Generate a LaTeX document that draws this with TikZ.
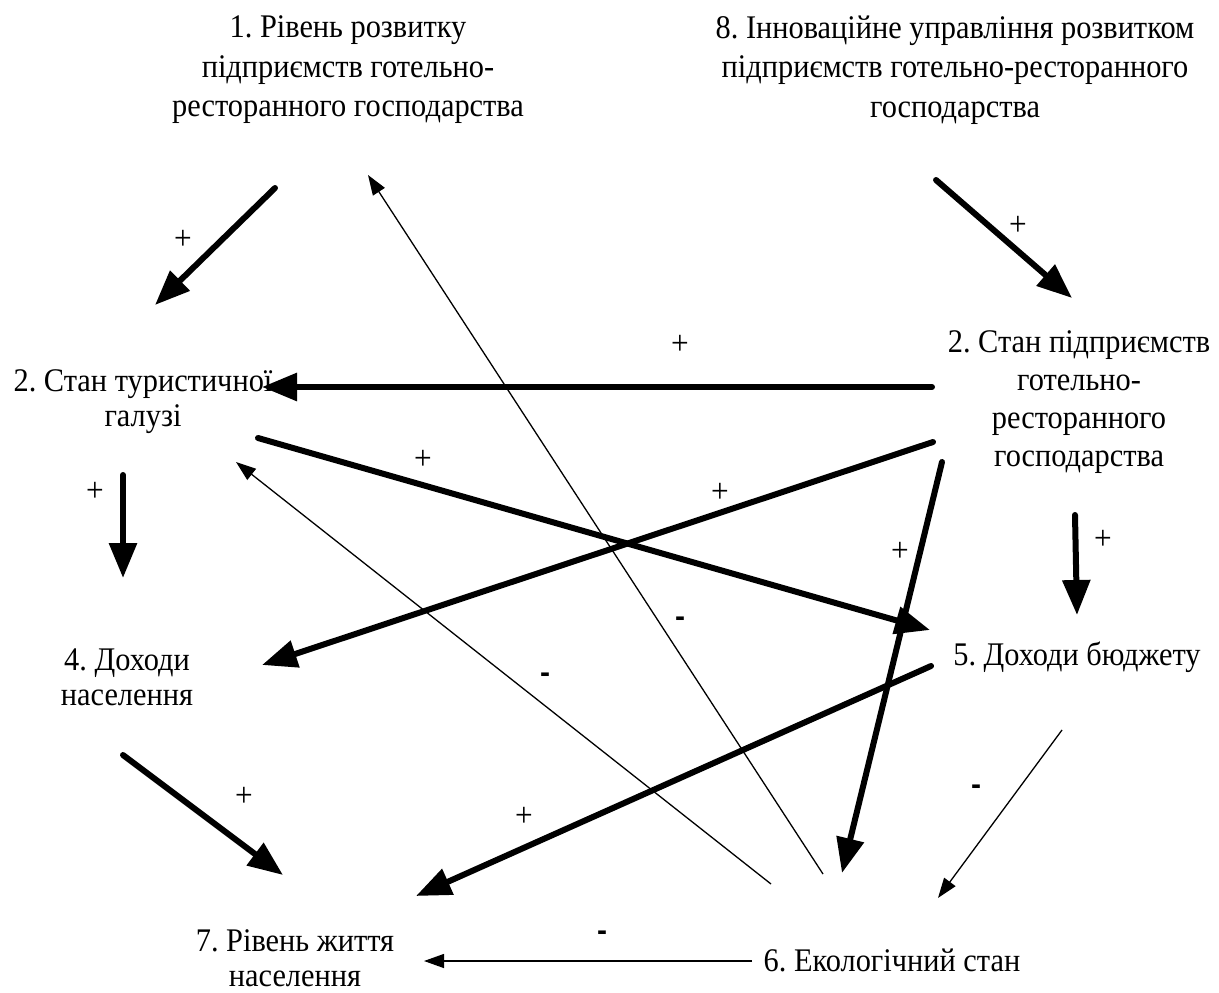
\documentclass[tikz,border=0pt]{standalone}
\usepackage{fontspec}
\setmainfont{Liberation Serif}[FakeStretch=0.92]
\newfontfamily\minusfont{Liberation Sans}
\usetikzlibrary{arrows.meta}
\frenchspacing

\tikzset{
  factor/.style={align=center, inner sep=0pt, font=\fontsize{33}{38}\selectfont},
  strong/.style={line width=6pt, line cap=round, -{Triangle[length=35pt,width=27pt]}},
  weak/.style={line width=1.3pt, -{Triangle[length=20pt,width=14pt]}},
  sign/.style={inner sep=0pt, font=\fontsize{34}{34}\selectfont},
  minus/.style={inner sep=0pt, font=\minusfont\bfseries\fontsize{30}{30}\selectfont},
}

\begin{document}
\begin{tikzpicture}[x=1pt,y=-1pt]
    \useasboundingbox (0,0) rectangle (1219,993);

    % Factors
    \node[factor,font=\fontsize{33}{39.5}\selectfont] (level) at (348,70) {1. Рівень розвитку\\підприємств готельно-\\ресторанного господарства};
    \node[factor,font=\fontsize{33}{39.5}\selectfont] (innov) at (955,70) {8. Інноваційне управління розвитком\\підприємств готельно-ресторанного\\господарства};
    \node[factor,font=\fontsize{33}{35}\selectfont] (tour) at (143,402) {2. Стан туристичної\\галузі};
    \node[factor] (hotel) at (1079,402) {2. Стан підприємств\\готельно-\\ресторанного\\господарства};
    \node[factor,font=\fontsize{33}{35}\selectfont] (income) at (127,677) {4. Доходи\\населення};
    \node[factor] (budget) at (1077,657) {5. Доходи бюджету};
    \node[factor,font=\fontsize{33}{35}\selectfont] (life) at (295,958) {7. Рівень життя\\населення};
    \node[factor] (eco) at (892,960) {6. Екологічний стан};

    % Arrow ends
    \coordinate (level-s)  at (275,188);  \coordinate (tour-n)   at (155,305);
    \coordinate (innov-s)  at (936,180);  \coordinate (hotel-n)  at (1072,298);
    \coordinate (hotel-w)  at (932,387);  \coordinate (tour-e)   at (262,387);
    \coordinate (tour-se)  at (258,438);  \coordinate (budget-w) at (930,630);
    \coordinate (hotel-sw) at (933,442);  \coordinate (income-e) at (262,665);
    \coordinate (hotel-s)  at (942,462);  \coordinate (eco-n)    at (842,873);
    \coordinate (tour-s)   at (123,475);  \coordinate (income-n) at (123,578);
    \coordinate (hotel-b)  at (1075,515); \coordinate (budget-n) at (1077,615);
    \coordinate (budget-sw) at (931,666); \coordinate (life-ne)  at (416,896);
    \coordinate (income-s) at (123,755);  \coordinate (life-nw)  at (283,875);
    \coordinate (eco-a)    at (823,874);  \coordinate (level-se) at (368,175);
    \coordinate (eco-b)    at (771,884);  \coordinate (tour-ee)  at (236,462);
    \coordinate (budget-s) at (1062,730); \coordinate (eco-ne)   at (938,898);
    \coordinate (eco-w)    at (752,961);  \coordinate (life-e)   at (424,961);

    % Positive links
    \draw[strong] (level-s) -- (tour-n);
    \draw[strong] (innov-s) -- (hotel-n);
    \draw[strong] (hotel-w) -- (tour-e);
    \draw[strong] (tour-se) -- (budget-w);
    \draw[strong] (hotel-sw) -- (income-e);
    \draw[strong] (hotel-s) -- (eco-n);
    \draw[strong] (tour-s) -- (income-n);
    \draw[strong] (hotel-b) -- (budget-n);
    \draw[strong] (budget-sw) -- (life-ne);
    \draw[strong] (income-s) -- (life-nw);

    % Negative links
    \draw[weak] (eco-a) -- (level-se);
    \draw[weak] (eco-b) -- (tour-ee);
    \draw[weak] (budget-s) -- (eco-ne);
    \draw[weak] (eco-w) -- (life-e);

    % Signs
    \node[sign] (p1) at (183,240) {+};
    \node[sign] (p2) at (1018,226) {+};
    \node[sign] (p3) at (680,345) {+};
    \node[sign] (p4) at (423,460) {+};
    \node[sign] (p5) at (720,493) {+};
    \node[sign] (p6) at (900,552) {+};
    \node[sign] (p7) at (95,492) {+};
    \node[sign] (p8) at (1103,540) {+};
    \node[sign] (p9) at (524,817) {+};
    \node[sign] (p10) at (244,797) {+};
    \node[minus] (m1) at (680,622) {-};
    \node[minus] (m2) at (545,678) {-};
    \node[minus] (m3) at (976,790) {-};
    \node[minus] (m4) at (602,936) {-};

\end{tikzpicture}
\end{document}
